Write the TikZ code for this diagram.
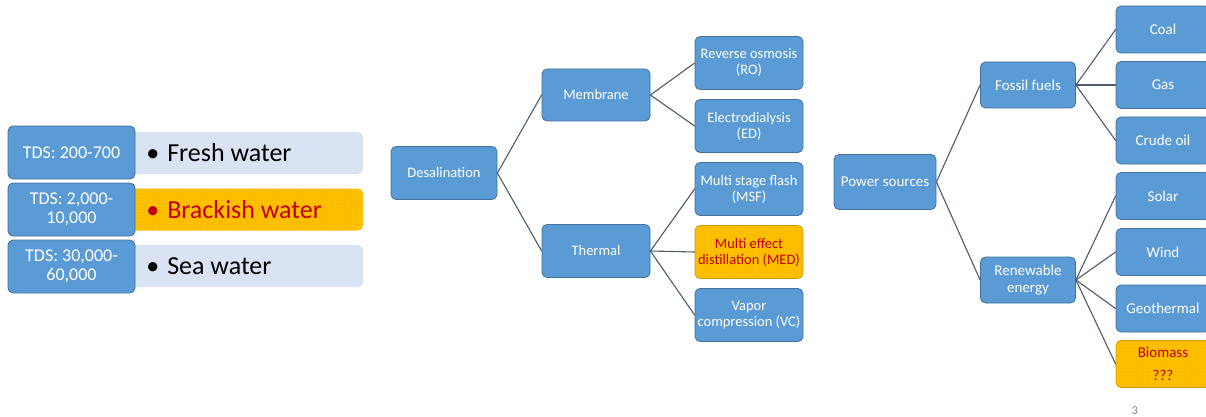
\documentclass[tikz,border=0pt]{standalone}
\usepackage{fontspec}
\setmainfont{Carlito}
\usetikzlibrary{patterns}

\definecolor{boxblue}{HTML}{5B9BD5}
\definecolor{boxedge}{HTML}{41719C}
\definecolor{paleblue}{HTML}{DAE3F3}
\definecolor{warnfill}{HTML}{FFC000}
\definecolor{warndots}{HTML}{E0A200}
\definecolor{warntext}{HTML}{C00000}
\definecolor{linkgray}{HTML}{4F5B66}

\tikzset{
  bluebox/.style={draw=boxedge, fill=boxblue, line width=0.8pt, rounded corners=5pt,
    text=white, align=center, inner sep=1pt, font=\fontsize{14.5}{16}\selectfont},
  warnbox/.style={bluebox, draw=warnfill!80!black, fill=warnfill, text=warntext,
    postaction={pattern=dots, pattern color=warndots}},
  palebox/.style={fill=paleblue, rounded corners=5pt, minimum height=42pt},
  link/.style={draw=linkgray, line width=1.1pt},
}

\begin{document}
\begin{tikzpicture}[x=1pt, y=-1pt, line cap=round, line join=round]
  \useasboundingbox (0,0) rectangle (1206,417);

  % water types
  \node[palebox, minimum width=238pt] (freshbg) at (244,153) {};
  \node[palebox, minimum width=238pt, fill=warnfill,
        postaction={pattern=dots, pattern color=warndots}] (brackbg) at (244,209.5) {};
  \node[palebox, minimum width=238pt] (seabg) at (244,266) {};
  \foreach \nm/\yy/\txt in {fresh/152.5/{TDS: 200-700}, brack/209.5/{TDS: 2,000-\\10,000},
                            sea/266.5/{TDS: 30,000-\\60,000}} {
    \node[bluebox, minimum width=127pt, minimum height=53pt,
          font=\fontsize{18}{19}\selectfont] (\nm tds) at (71.5,\yy) {\txt};
  }
  \node[anchor=west, font=\fontsize{26}{30}\selectfont] (freshtxt) at (freshbg.west) [xshift=18pt] {\textbullet\hspace{8pt}Fresh water};
  \node[anchor=west, text=warntext, font=\fontsize{26}{30}\selectfont] (bracktxt) at (brackbg.west) [xshift=18pt] {\textbullet\hspace{8pt}Brackish water};
  \node[anchor=west, font=\fontsize{26}{30}\selectfont] (seatxt) at (seabg.west) [xshift=18pt] {\textbullet\hspace{8pt}Sea water};

  % desalination tree
  \node[bluebox, minimum width=106pt, minimum height=53pt] (desal) at (444,173) {Desalination};
  \node[bluebox, minimum width=108pt, minimum height=52pt] (membr) at (596,95) {Membrane};
  \node[bluebox, minimum width=108pt, minimum height=53pt] (therm) at (596,251) {Thermal};
  \tikzset{leafa/.style={bluebox, minimum width=108pt, minimum height=53pt}}
  \node[leafa] (ro)  at (749,63)  {Reverse osmosis\\(RO)};
  \node[leafa] (ed)  at (749,126) {Electrodialysis\\(ED)};
  \node[leafa] (msf) at (749,189) {Multi stage flash\\(MSF)};
  \node[leafa, warnbox] (med) at (749,252) {Multi effect\\distillation (MED)};
  \node[leafa] (vc)  at (749,315) {Vapor\\compression (VC)};

  \foreach \kid in {membr,therm} \draw[link] (desal.east) -- (\kid.west);
  \foreach \kid in {ro,ed} \draw[link] (membr.east) -- (\kid.west);
  \foreach \kid in {msf,med,vc} \draw[link] (therm.east) -- (\kid.west);

  % power sources tree
  \node[bluebox, minimum width=102pt, minimum height=55pt,
        font=\fontsize{15}{17}\selectfont] (power) at (885,182) {Power sources};
  \node[bluebox, minimum width=95pt, minimum height=46pt,
        font=\fontsize{15}{17}\selectfont] (fossil) at (1028,85) {Fossil fuels};
  \node[bluebox, minimum width=95pt, minimum height=46pt,
        font=\fontsize{15}{17}\selectfont] (renew) at (1028,280) {Renewable\\energy};
  \tikzset{leafb/.style={bluebox, minimum width=94pt, minimum height=47pt,
                         font=\fontsize{15}{23}\selectfont}}
  \node[leafb] (coal)  at (1163,29.5)  {Coal};
  \node[leafb] (gas)   at (1163,85)    {Gas};
  \node[leafb] (crude) at (1163,140.5) {Crude oil};
  \node[leafb] (solar) at (1163,196)   {Solar};
  \node[leafb] (wind)  at (1163,252)   {Wind};
  \node[leafb] (geo)   at (1163,308.5) {Geothermal};
  \node[leafb, warnbox, font=\fontsize{15}{23}\selectfont] (bio) at (1163,364) {Biomass\\???};

  \foreach \kid in {fossil,renew} \draw[link] (power.east) -- (\kid.west);
  \foreach \kid in {coal,gas,crude} \draw[link] (fossil.east) -- (\kid.west);
  \foreach \kid in {solar,wind,geo,bio} \draw[link] (renew.east) -- (\kid.west);

  \node[text=gray, font=\fontsize{12}{14}\selectfont] (pagenum) at (1135,411) {3};
\end{tikzpicture}
\end{document}
